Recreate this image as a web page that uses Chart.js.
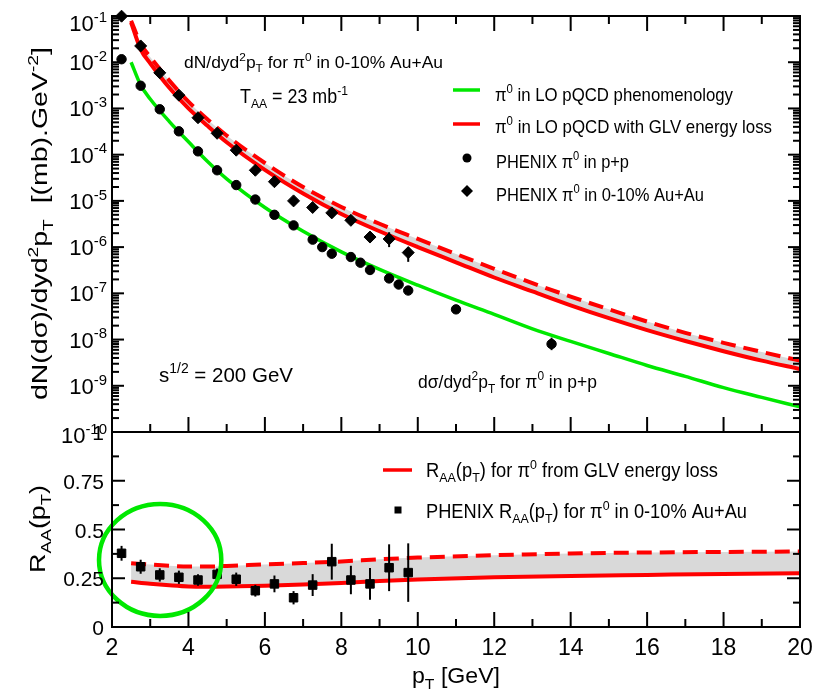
<!DOCTYPE html>
<html>
<head>
<meta charset="utf-8">
<script src="https://cdn.jsdelivr.net/npm/chart.js@4.4.1/dist/chart.umd.min.js"></script>
<style>
  html, body { margin:0; padding:0; background:#fff; }
  #wrap { position:relative; width:827px; height:696px; }
  #wrap canvas { position:absolute; left:0; top:0; }
</style>
</head>
<body>
<div id="wrap">
  <canvas id="spectra" width="827" height="696"></canvas>
  <canvas id="raa" width="827" height="696"></canvas>
</div>
<script>
// ==================== DATA ====================
// LO pQCD curves (pT in GeV)
const ptTheory  = [2.5, 2.75, 3, 3.5, 4, 4.5, 5, 6, 7, 8, 9, 10, 11, 12, 13, 14, 15, 16, 17, 18, 19, 20];
const ppLO      = [1.0e-2, 3.2e-3, 1.6e-3, 5.2e-4, 1.9e-4, 7.1e-5, 3.0e-5, 7.2e-6, 2.2e-6, 7.9e-7, 3.3e-7, 1.5e-7,
                   7.1e-8, 3.5e-8, 1.7e-8, 9.1e-9, 5.0e-9, 2.75e-9, 1.6e-9, 9.1e-10, 5.6e-10, 3.5e-10];
const aaGLVLow  = [7.2e-2, 1.9e-2, 9.5e-3, 2.8e-3, 1.0e-3, 4.2e-4, 1.86e-4, 4.7e-5, 1.45e-5, 5.2e-6, 2.2e-6, 1.0e-6,
                   4.7e-7, 2.2e-7, 1.1e-7, 5.5e-8, 2.9e-8, 1.6e-8, 9.3e-9, 5.6e-9, 3.5e-9, 2.3e-9];
const aaGLVHigh = [7.9e-2, 2.5e-2, 1.3e-2, 4.0e-3, 1.4e-3, 5.8e-4, 2.6e-4, 6.6e-5, 2.0e-5, 7.4e-6, 3.2e-6, 1.5e-6,
                   7.1e-7, 3.4e-7, 1.66e-7, 8.5e-8, 4.5e-8, 2.45e-8, 1.4e-8, 8.5e-9, 5.4e-9, 3.5e-9];

// PHENIX pi0 p+p
const ppPt  = [2.25, 2.75, 3.25, 3.75, 4.25, 4.75, 5.25, 5.75, 6.25, 6.75, 7.25, 7.5, 7.75, 8.25, 8.5, 8.75, 9.25, 9.5, 9.75, 11.0, 13.5];
const ppVal = [1.16e-2, 3.1e-3, 9.6e-4, 3.2e-4, 1.18e-4, 4.6e-5, 2.2e-5, 1.07e-5, 5.0e-6, 2.95e-6, 1.45e-6, 1.0e-6,
               7.2e-7, 6.1e-7, 4.6e-7, 3.2e-7, 2.1e-7, 1.55e-7, 1.15e-7, 4.5e-8, 8.0e-9];
const ppErrBars = [[13.5, 5.9e-9, 1.1e-8]];

// PHENIX pi0 0-10% Au+Au
const aaPt  = [2.25, 2.75, 3.25, 3.75, 4.25, 4.75, 5.25, 5.75, 6.25, 6.75, 7.25, 7.75, 8.25, 8.75, 9.25, 9.75];
const aaVal = [9.9e-2, 2.25e-2, 5.9e-3, 1.94e-3, 6.3e-4, 2.9e-4, 1.25e-4, 4.6e-5, 2.6e-5, 1.0e-5, 7.2e-6, 5.5e-6,
               3.8e-6, 1.65e-6, 1.5e-6, 7.6e-7];
const aaErrBars = [[9.25, 1.0e-6, 2.1e-6], [9.75, 4.8e-7, 9.9e-7]];

// R_AA
const raaTheoryPt = [2.5, 3, 3.5, 4, 4.5, 5, 6, 7, 8, 9, 10, 12, 14, 16, 18, 20];
const raaLow      = [0.232, 0.222, 0.214, 0.208, 0.207, 0.208, 0.212, 0.218, 0.226, 0.236, 0.244, 0.255, 0.262, 0.267, 0.272, 0.276];
const raaHigh     = [0.327, 0.320, 0.314, 0.310, 0.310, 0.313, 0.321, 0.328, 0.336, 0.347, 0.356, 0.368, 0.377, 0.382, 0.385, 0.387];
const raaPt  = [2.25, 2.75, 3.25, 3.75, 4.25, 4.75, 5.25, 5.75, 6.25, 6.75, 7.25, 7.75, 8.25, 8.75, 9.25, 9.75];
const raaVal = [0.378, 0.309, 0.267, 0.255, 0.241, 0.270, 0.245, 0.186, 0.221, 0.150, 0.215, 0.335, 0.241, 0.221, 0.304, 0.279];
const raaErr = [0.038, 0.036, 0.034, 0.034, 0.030, 0.030, 0.034, 0.030, 0.043, 0.034, 0.056, 0.092, 0.073, 0.081, 0.120, 0.150];

// ticks
const xMajor = [2, 4, 6, 8, 10, 12, 14, 16, 18, 20];
const decades = [-1, -2, -3, -4, -5, -6, -7, -8, -9, -10];
const raaTicks = [0, 0.25, 0.5, 0.75, 1];
const raaTickLabels = ["0", "0.25", "0.5", "0.75", "1"];

// ==================== STYLE ====================
const GREEN = "#00e800", RED = "#ff0000", BAND = "#d9d9d9";
const FONT = '"Liberation Sans", Arial, Helvetica, sans-serif';
const xy = (xs, ys) => xs.map((x, i) => ({ x, y: ys[i] }));

// ==================== TEXT HELPERS ====================
// segs: [[text, ""|"sup"|"sub"], ...]
const segFont = (m, size) => `${m ? size * 0.68 : size}px ${FONT}`;
function richWidth(ctx, segs, size) {
  return segs.reduce((w, [t, m]) => { ctx.font = segFont(m, size); return w + ctx.measureText(t).width; }, 0);
}
function drawRich(ctx, segs, x, y, size, width, align = "left") {
  const nat = richWidth(ctx, segs, size);
  const sx = width ? width / nat : 1;
  ctx.save();
  ctx.translate(x, y);
  ctx.scale(sx, 1);
  ctx.textAlign = "left"; ctx.textBaseline = "alphabetic"; ctx.fillStyle = "#000";
  let cx = align === "right" ? -nat : align === "center" ? -nat / 2 : 0;
  segs.forEach(([t, m]) => {
    ctx.font = segFont(m, size);
    const dy = m === "sup" ? -size * 0.42 : m === "sub" ? size * 0.26 : 0;
    ctx.fillText(t, cx, dy);
    cx += ctx.measureText(t).width;
  });
  ctx.restore();
}
function drawRotated(ctx, segs, x, y, size, width) {
  ctx.save();
  ctx.translate(x, y);
  ctx.rotate(-Math.PI / 2);
  drawRich(ctx, segs, 0, 0, size, width);
  ctx.restore();
}
const line = (ctx, x1, y1, x2, y2) => { ctx.beginPath(); ctx.moveTo(x1, y1); ctx.lineTo(x2, y2); ctx.stroke(); };

// ==================== PLUGINS ====================
const errorBars = {
  id: "errorBars",
  afterDatasetsDraw(chart, args, opts) {
    const { ctx, scales: { x, y } } = chart;
    ctx.save();
    ctx.strokeStyle = "#000"; ctx.lineWidth = 2;
    opts.bars.forEach(([px, lo, hi]) => {
      const xp = x.getPixelForValue(px);
      line(ctx, xp, y.getPixelForValue(lo), xp, y.getPixelForValue(hi));
    });
    ctx.restore();
  }
};

function frameAndXTicks(chart, top, bottom) {
  const { ctx, chartArea: a, scales: { x } } = chart;
  ctx.strokeStyle = "#000"; ctx.lineWidth = 2;
  ctx.strokeRect(a.left, a.top, a.right - a.left, a.bottom - a.top);
  for (let v = 2; v <= 20; v++) {
    const xp = x.getPixelForValue(v), len = v % 2 ? 8 : 15;
    if (bottom) line(ctx, xp, a.bottom, xp, a.bottom - len);
    if (top) line(ctx, xp, a.top, xp, a.top + len);
  }
}

const spectraDecor = {
  id: "spectraDecor",
  afterDraw(chart) {
    const { ctx, chartArea: a, scales: { y } } = chart;
    ctx.save();
    frameAndXTicks(chart, true, true);
    // log ticks, both sides
    decades.forEach(e => {
      for (let m = 1; m <= 9; m++) {
        const v = m * Math.pow(10, e);
        if (v > 0.1 + 1e-12) continue;
        const yp = y.getPixelForValue(v), len = m === 1 ? 12 : 7;
        line(ctx, a.left, yp, a.left + len, yp);
        line(ctx, a.right, yp, a.right - len, yp);
      }
    });
    // tick labels 10^n
    decades.forEach((e, i) => {
      const yp = y.getPixelForValue(Math.pow(10, e));
      const off = i === 0 ? 15 : i === decades.length - 1 ? 11 : 8;
      drawRich(ctx, [["10", ""], [String(e), "sup"]], 107, yp + off, 22, 0, "right");
    });
    // y title
    drawRotated(ctx, [["dN(dσ)/dyd", ""], ["2", "sup"], ["p", ""], ["T", "sub"], ["  [(mb).GeV", ""], ["-2", "sup"], ["]", ""]], 47, 400, 22, 353);
    // annotations
    drawRich(ctx, [["dN/dyd", ""], ["2", "sup"], ["p", ""], ["T", "sub"], [" for π", ""], ["0", "sup"], [" in 0-10% Au+Au", ""]], 184, 68, 17, 259);
    drawRich(ctx, [["T", ""], ["AA", "sub"], [" = 23 mb", ""], ["-1", "sup"]], 240, 103, 20, 108);
    drawRich(ctx, [["s", ""], ["1/2", "sup"], [" = 200 GeV", ""]], 159, 382, 21, 134);
    drawRich(ctx, [["dσ/dyd", ""], ["2", "sup"], ["p", ""], ["T", "sub"], [" for π", ""], ["0", "sup"], [" in p+p", ""]], 418, 388, 18, 179);
    // legend
    ctx.lineWidth = 3.5;
    ctx.strokeStyle = GREEN; line(ctx, 453, 90, 480, 90);
    ctx.strokeStyle = RED; line(ctx, 453, 124, 480, 124);
    ctx.fillStyle = "#000";
    ctx.beginPath(); ctx.arc(467, 158, 4.5, 0, Math.PI * 2); ctx.fill();
    ctx.beginPath(); ctx.moveTo(467, 185); ctx.lineTo(473, 191); ctx.lineTo(467, 197); ctx.lineTo(461, 191); ctx.closePath(); ctx.fill();
    drawRich(ctx, [["π", ""], ["0", "sup"], [" in LO pQCD phenomenology", ""]], 495, 101, 19, 238);
    drawRich(ctx, [["π", ""], ["0", "sup"], [" in LO pQCD with GLV energy loss", ""]], 495, 133, 19, 277);
    drawRich(ctx, [["PHENIX π", ""], ["0", "sup"], [" in p+p", ""]], 496, 168, 19, 133);
    drawRich(ctx, [["PHENIX π", ""], ["0", "sup"], [" in 0-10% Au+Au", ""]], 496, 201, 19, 208);
    ctx.restore();
  }
};

const raaDecor = {
  id: "raaDecor",
  afterDatasetsDraw(chart) {
    // highlighted low-pT region
    const { ctx, scales: { x, y } } = chart;
    const cx = x.getPixelForValue(3.26), cy = y.getPixelForValue(0.344);
    const rx = x.getPixelForValue(3.26 + 1.6) - cx, ry = cy - y.getPixelForValue(0.344 + 0.287);
    ctx.save();
    ctx.strokeStyle = GREEN; ctx.lineWidth = 4.5;
    ctx.beginPath(); ctx.ellipse(cx, cy, rx, ry, 0, 0, Math.PI * 2); ctx.stroke();
    ctx.restore();
  },
  afterDraw(chart) {
    const { ctx, chartArea: a, scales: { x, y } } = chart;
    ctx.save();
    frameAndXTicks(chart, false, true);
    for (let k = 0; k <= 8; k++) {
      const yp = y.getPixelForValue(k * 0.125), len = k % 2 ? 7 : 13;
      line(ctx, a.left, yp, a.left + len, yp);
      line(ctx, a.right, yp, a.right - len, yp);
    }
    raaTicks.forEach((v, i) => drawRich(ctx, [[raaTickLabels[i], ""]], 104, y.getPixelForValue(v) + 8, 21, 0, "right"));
    xMajor.forEach(v => drawRich(ctx, [[String(v), ""]], x.getPixelForValue(v), 655, 23, 0, "center"));
    drawRich(ctx, [["p", ""], ["T", "sub"], [" [GeV]", ""]], 412, 683, 22, 88);
    drawRotated(ctx, [["R", ""], ["AA", "sub"], ["(p", ""], ["T", "sub"], [")", ""]], 45, 573, 22, 88);
    // legend
    ctx.strokeStyle = RED; ctx.lineWidth = 3.5; line(ctx, 383, 470, 412, 470);
    ctx.fillStyle = "#000"; ctx.fillRect(394.5, 506.5, 7, 7);
    drawRich(ctx, [["R", ""], ["AA", "sub"], ["(p", ""], ["T", "sub"], [") for π", ""], ["0", "sup"], [" from GLV energy loss", ""]], 426, 477, 20, 292);
    drawRich(ctx, [["PHENIX R", ""], ["AA", "sub"], ["(p", ""], ["T", "sub"], [") for π", ""], ["0", "sup"], [" in 0-10% Au+Au", ""]], 426, 518, 20, 321);
    ctx.restore();
  }
};

// ==================== CHARTS ====================
const curve = (data, color, order, extra = {}) => ({
  data, showLine: true, borderColor: color, borderWidth: 4, pointRadius: 0,
  cubicInterpolationMode: "monotone", fill: false, order, ...extra
});
const marks = (data, style, radius, order) => ({
  data, showLine: false, pointStyle: style, pointRadius: radius, pointBackgroundColor: "#000",
  pointBorderColor: "#000", pointBorderWidth: 1, clip: false, order
});
const baseOptions = (padding, yScale, bars) => ({
  responsive: false, animation: false, devicePixelRatio: 1, events: [],
  layout: { padding },
  plugins: { legend: { display: false }, tooltip: { enabled: false }, errorBars: { bars } },
  scales: { x: { type: "linear", min: 2, max: 20, display: false }, y: { ...yScale, display: false } }
});

new Chart(document.getElementById("spectra"), {
  type: "scatter",
  data: {
    datasets: [
      curve(xy(ptTheory, ppLO), GREEN, 2, { borderWidth: 3.5 }),
      curve(xy(ptTheory, aaGLVLow), RED, 3),
      curve(xy(ptTheory, aaGLVHigh), RED, 4, { borderDash: [15, 8], fill: "-1", backgroundColor: BAND }),
      marks(xy(ppPt, ppVal), "circle", 4.7, 1),
      marks(xy(aaPt, aaVal), "rectRot", 6, 0)
    ]
  },
  options: baseOptions({ left: 112, top: 16, right: 27, bottom: 264 },
    { type: "logarithmic", min: 1e-10, max: 1e-1 }, [...ppErrBars, ...aaErrBars]),
  plugins: [errorBars, spectraDecor]
});

new Chart(document.getElementById("raa"), {
  type: "scatter",
  data: {
    datasets: [
      curve(xy(raaTheoryPt, raaLow), RED, 2),
      curve(xy(raaTheoryPt, raaHigh), RED, 3, { borderDash: [15, 8], fill: "-1", backgroundColor: BAND }),
      marks(xy(raaPt, raaVal), "rect", 6, 0)
    ]
  },
  options: baseOptions({ left: 112, top: 432, right: 27, bottom: 69 },
    { type: "linear", min: 0, max: 1 }, raaPt.map((p, i) => [p, raaVal[i] - raaErr[i], raaVal[i] + raaErr[i]])),
  plugins: [errorBars, raaDecor]
});
</script>
</body>
</html>
